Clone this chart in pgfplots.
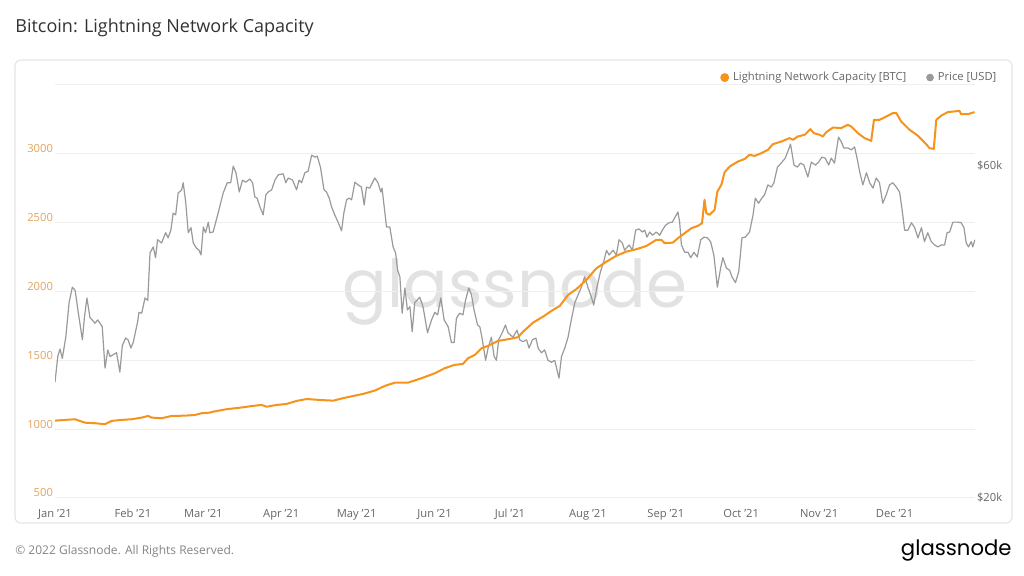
\documentclass[border=0pt]{standalone}
\usepackage{fontspec}
\setmainfont{Open Sans}
\newfontfamily\logofont{Poppins}
\usepackage{pgfplots}
\pgfplotsset{compat=1.18}
\definecolor{BtcOrange}{HTML}{F7931A}
\definecolor{TickOrange}{HTML}{E3A45C}
\definecolor{PriceGray}{HTML}{9A9A9A}
\definecolor{LabelGray}{HTML}{666666}
\definecolor{TitleGray}{HTML}{333333}
\definecolor{GridGray}{HTML}{EFEFEF}
\definecolor{PanelGray}{HTML}{E6E6E6}
\definecolor{WmGray}{HTML}{E2E2E2}

% 1 px of the 1024x576 reference = 0.5pt; plot area spans px x 55..975, y 85..498
\pgfplotsset{
  base/.style={
    at={(27.5pt,39pt)}, anchor=south west,
    scale only axis, width=460pt, height=206.5pt,
    xmin=0, xmax=366,
    major tick length=0,
    tick label style={font=\fontsize{5.6}{7}\selectfont, /pgf/number format/assume math mode=true},
  },
}

\begin{document}
\begin{tikzpicture}
\path[use as bounding box] (0,0) rectangle (512pt,288pt);
\fill[white] (0,0) rectangle (512pt,288pt);
\begin{scope}[x=0.5pt, y=-0.5pt, yshift=288pt]
\node[anchor=west, inner sep=0, text=TitleGray, font=\fontsize{9}{10}\selectfont] at (15,28) {Bitcoin: Lightning Network Capacity};
\draw[PanelGray, line width=0.6pt, rounded corners=3pt] (15,60) rectangle (1012,523);
\node[text=WmGray, font=\logofont\fontsize{33}{33}\selectfont] at (515,292) {glassnode};
\node[anchor=west, inner sep=0, text=LabelGray!80, font=\fontsize{6}{7}\selectfont] at (15,551) {\textcopyright{} 2022 Glassnode. All Rights Reserved.};
\node[anchor=east, inner sep=0, font=\logofont\fontsize{10.6}{12}\selectfont] at (1012,551) {glassnode};
\end{scope}

% grid, left ticks, months
\begin{axis}[base,
  ymin=500, ymax=3500,
  ytick={500,1000,1500,2000,2500,3000,3500},
  yticklabels={500,1000,1500,2000,2500,3000,},
  ymajorgrids, grid style={GridGray, line width=0.5pt},
  axis line style={draw=none},
  xtick={0,31,59,90,120,151,181,212,243,273,304,334},
  xticklabels={Jan '21,Feb '21,Mar '21,Apr '21,May '21,Jun '21,Jul '21,Aug '21,Sep '21,Oct '21,Nov '21,Dec '21},
  xticklabel style={text=LabelGray, yshift=-2pt},
  yticklabel style={text=TickOrange, xshift=2.5pt, yshift=2.5pt},
]
\end{axis}

% price, right log axis
\begin{axis}[base,
  ymode=log, ymin=20, ymax=78.16,
  axis x line=none, axis y line*=right,
  y axis line style={draw=none},
  ytick={20,60}, yticklabels={\$20k,\$60k},
  yticklabel style={text=LabelGray, xshift=-2.5pt, yshift=0pt},
]
\addplot[PriceGray, line width=0.6pt, line join=round] coordinates {
(0.0,29.3) (1.1,31.9) (2.0,32.7) (2.9,31.7) (4.3,34.0) (5.6,38.1) (6.9,40.1) (8.0,39.7)
(9.3,36.8) (10.9,33.7) (11.7,36.3) (12.7,38.7) (13.9,36.3) (15.9,35.6) (17.0,36.0) (18.8,35.2)
(19.9,30.7) (21.0,32.6) (21.9,31.9) (24.5,32.3) (25.8,30.3) (26.8,33.1) (28.1,33.9) (29.1,33.7)
(30.2,32.8) (31.1,33.4) (32.9,35.8) (33.4,36.9) (34.5,36.8) (35.8,38.7) (36.9,38.4) (37.8,44.9)
(39.1,45.8) (40.0,44.2) (40.8,46.9) (42.4,46.4) (44.0,48.0) (45.0,47.2) (46.1,48.4) (47.0,51.2)
(48.0,50.9) (49.0,54.7) (50.4,55.3) (51.0,56.6) (52.0,53.1) (53.0,48.0) (54.1,48.8) (55.0,46.4)
(56.3,45.6) (57.3,45.3) (58.1,44.6) (59.0,48.9) (59.9,48.0) (61.0,49.7) (61.6,48.0) (62.9,48.1)
(64.9,51.2) (66.9,54.7) (68.5,56.6) (69.9,56.6) (70.9,59.8) (72.0,58.5) (73.3,54.9) (74.6,57.1)
(75.9,56.7) (77.5,57.3) (78.6,56.6) (79.5,54.0) (80.4,53.8) (81.5,52.3) (82.8,50.9) (83.9,54.4)
(84.8,54.9) (86.2,55.3) (87.5,57.1) (88.8,58.1) (90.8,58.3) (91.8,56.6) (92.8,57.5) (94.5,57.1)
(96.1,55.3) (97.1,57.1) (98.1,56.6) (99.4,58.5) (100.7,58.8) (102.1,62.0) (103.4,61.6) (104.3,61.8)
(105.6,59.6) (107.0,55.3) (108.0,54.9) (109.1,53.8) (110.0,52.3) (111.3,50.9) (112.6,49.7) (114.0,48.3)
(114.9,51.2) (116.0,53.5) (117.0,53.8) (118.0,53.5) (119.3,56.7) (120.6,56.2) (121.9,55.8) (123.0,52.6)
(123.9,55.8) (125.2,55.6) (127.2,57.5) (128.5,56.6) (129.6,54.9) (130.1,55.6) (131.9,48.9) (133.2,48.9)
(134.5,45.8) (135.5,44.9) (136.3,42.4) (137.2,41.5) (138.1,36.8) (139.2,40.0) (140.2,37.2) (141.2,37.6)
(142.1,34.6) (143.1,38.1) (145.1,38.8) (146.4,37.6) (148.2,34.5) (149.8,36.0) (151.1,36.9) (152.2,36.6)
(153.5,38.7) (154.8,36.0) (156.4,35.2) (157.7,33.4) (158.8,33.4) (159.7,36.2) (161.0,36.8) (162.3,36.6)
(163.3,38.4) (164.6,40.0) (165.7,39.1) (166.7,37.2) (168.1,35.4) (169.0,35.2) (169.9,33.9) (171.3,31.5)
(172.3,32.8) (173.6,34.0) (174.7,31.9) (175.6,31.5) (176.5,33.7) (177.9,34.5) (179.2,35.4) (180.2,34.5)
(182.2,34.0) (183.8,34.8) (184.9,33.7) (186.2,33.5) (187.6,33.7) (188.6,32.8) (189.9,33.7) (191.3,33.9)
(192.2,32.8) (193.5,32.3) (194.8,32.6) (196.1,31.5) (197.5,31.3) (198.8,31.5) (200.5,29.7) (201.5,31.9)
(202.8,32.8) (204.1,34.0) (205.4,36.0) (206.8,38.1) (208.1,39.1) (209.4,40.1) (210.7,41.5) (212.0,40.1)
(213.4,38.8) (214.3,37.8) (215.6,40.1) (217.0,42.2) (218.3,43.6) (219.4,45.3) (220.4,44.6) (222.0,45.3)
(223.3,44.6) (224.4,46.9) (225.7,46.4) (226.6,45.3) (228.4,46.1) (229.7,45.3) (231.0,48.4) (232.3,48.6)
(233.7,48.1) (234.6,48.4) (235.5,47.3) (236.6,48.1) (237.7,47.6) (239.2,48.1) (240.6,47.6) (241.6,48.4)
(242.9,49.2) (244.3,49.6) (245.6,49.7) (247.8,51.4) (248.5,49.7) (249.2,46.1) (250.5,45.0) (251.8,45.0)
(252.9,44.2) (254.2,45.0) (255.5,44.3) (256.9,46.9) (258.2,47.3) (259.5,47.2) (260.8,46.6) (262.1,44.6)
(263.5,40.1) (264.8,42.7) (265.7,44.2) (267.1,42.7) (268.4,42.4) (269.3,41.5) (270.7,40.7) (272.0,42.2)
(273.3,47.2) (274.6,47.3) (276.3,48.1) (277.7,50.9) (278.6,53.8) (279.9,52.9) (281.2,53.8) (282.3,54.4)
(283.6,56.2) (285.0,55.8) (286.0,56.6) (287.4,59.6) (288.9,60.4) (290.5,61.4) (291.8,63.1) (292.6,64.3)
(294.0,60.0) (295.3,59.6) (296.6,60.4) (297.9,60.0) (299.5,57.7) (300.9,60.6) (302.5,60.0) (303.8,60.6)
(305.1,61.6) (306.4,61.4) (307.8,60.0) (308.8,61.4) (310.1,60.4) (311.7,65.8) (312.8,64.8) (313.8,63.5)
(315.4,63.5) (316.8,63.1) (318.1,63.7) (319.4,60.6) (320.1,58.7) (321.4,56.2) (322.8,58.5) (324.1,56.6)
(325.4,55.6) (326.7,57.5) (328.0,56.6) (329.3,52.9) (330.7,54.4) (332.0,56.2) (333.3,56.6) (334.7,55.8)
(336.0,54.9) (336.9,52.1) (338.0,48.4) (339.3,48.4) (340.7,49.6) (342.0,48.8) (343.3,47.2) (344.7,48.8)
(345.9,46.6) (347.2,48.0) (348.6,46.6) (349.9,46.1) (351.2,45.8) (352.6,46.1) (353.9,46.1) (354.9,48.0)
(355.9,48.1) (357.2,49.7) (359.2,49.7) (360.5,49.6) (361.6,48.8) (362.5,46.4) (363.4,45.8) (364.5,46.6)
(365.1,45.8) (366.0,46.9)
};
\end{axis}

% capacity on top, with the legend
\begin{axis}[base,
  ymin=500, ymax=3500,
  hide axis,
  legend columns=2,
  legend style={draw=none, fill=none, at={(1.028,1.018)}, anchor=east, inner sep=0pt,
    font=\fontsize{5.6}{7}\selectfont, text=LabelGray,
    /tikz/every even column/.append style={column sep=8pt}},
  legend image code/.code={\fill (0pt,0pt) circle (1.7pt);},
]
\addplot[BtcOrange, line width=1pt, line join=round] coordinates {
(0.0,1062) (4.0,1067) (8.0,1072) (11.9,1047) (15.9,1043) (19.9,1036) (22.5,1060) (26.5,1067)
(30.5,1072) (34.5,1084) (37.1,1096) (38.4,1084) (42.4,1079) (46.4,1096) (51.7,1098) (55.7,1103)
(58.3,1116) (61.6,1120) (62.9,1127) (68.3,1145) (73.6,1156) (78.8,1169) (82.2,1176) (84.2,1163)
(88.2,1176) (92.1,1183) (96.1,1205) (100.1,1219) (105.4,1212) (110.7,1207) (114.6,1225) (118.6,1241)
(122.6,1256) (127.2,1280) (131.2,1314) (135.2,1338) (140.5,1338) (145.8,1370) (151.1,1406) (155.1,1443)
(159.0,1467) (162.3,1474) (164.3,1515) (167.0,1539) (169.7,1588) (172.3,1605) (176.3,1641) (180.2,1653)
(184.2,1668) (186.2,1708) (190.2,1774) (194.2,1818) (198.1,1866) (200.8,1895) (204.1,1975) (207.4,2017)
(211.4,2084) (215.4,2169) (219.4,2217) (223.3,2259) (227.3,2290) (231.3,2307) (235.3,2331) (239.2,2375)
(241.2,2375) (242.5,2351) (245.8,2355) (247.8,2387) (250.5,2424) (253.2,2460) (255.8,2477) (257.4,2496)
(258.4,2666) (259.1,2569) (260.4,2557) (262.4,2593) (263.5,2726) (265.1,2775) (266.4,2867) (268.4,2908)
(271.7,2944) (274.4,2963) (276.3,2993) (278.3,2985) (281.0,3005) (283.6,3029) (285.6,3070) (288.9,3089)
(292.2,3114) (293.6,3102) (295.5,3126) (298.2,3138) (300.5,3179) (301.9,3150) (304.2,3138) (305.5,3126)
(306.8,3157) (309.5,3191) (312.8,3187) (315.4,3211) (316.8,3198) (319.4,3150) (322.1,3114) (324.7,3094)
(325.8,3247) (328.0,3247) (330.0,3264) (333.3,3296) (334.7,3296) (336.6,3235) (340.0,3174) (343.3,3131)
(346.6,3070) (347.9,3041) (349.6,3036) (350.6,3247) (352.6,3278) (355.2,3303) (359.8,3312) (360.5,3288)
(363.2,3288) (364.5,3296) (365.8,3303)
};
\addlegendentry{Lightning Network Capacity [BTC]}
\addlegendimage{PriceGray}
\addlegendentry{Price [USD]}
\end{axis}
\end{tikzpicture}
\end{document}
